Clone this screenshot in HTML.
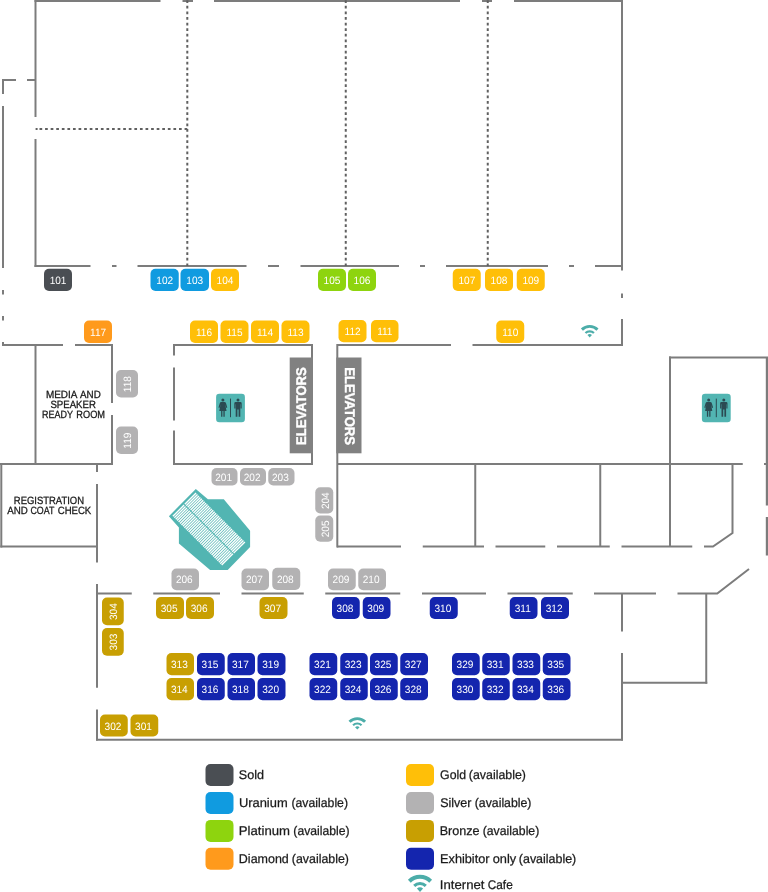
<!DOCTYPE html>
<html lang="en">
<head>
<meta charset="utf-8">
<title>Exhibit Floor Plan</title>
<style>
html,body{margin:0;padding:0;background:#fff;}
body{width:768px;height:892px;overflow:hidden;font-family:"Liberation Sans",sans-serif;}
svg{display:block;will-change:transform;}
</style>
</head>
<body>
<svg width="768" height="892" viewBox="0 0 768 892">
<rect width="768" height="892" fill="#fff"/>
<g fill="none" stroke="#7c7c7c" stroke-width="2">
<path d="M34.5 1H160.5"/>
<path d="M182.5 1H193"/>
<path d="M214 1H460"/>
<path d="M482 1H492"/>
<path d="M514 1H623"/>
<path d="M35.5 0V117"/>
<path d="M35.5 139V267"/>
<path d="M622 0V270.5"/>
<path d="M622 293.5V298"/>
<path d="M622 319V346"/>
<path d="M34.5 266H90.5"/>
<path d="M112 266H116.5"/>
<path d="M137.5 266H246.5"/>
<path d="M268 266H279"/>
<path d="M300.5 266H399"/>
<path d="M420 266H425"/>
<path d="M446 266H548"/>
<path d="M569 266H574"/>
<path d="M595 266H623"/>
<path d="M2 80H16"/>
<path d="M27 80H35"/>
<path d="M3 79V94"/>
<path d="M3 106V268"/>
<path d="M3 290V294.5"/>
<path d="M3 316V320.5"/>
<path d="M3 342V346"/>
<path d="M2 345H63"/>
<path d="M75 345H113"/>
<path d="M35.5 345V464"/>
<path d="M112 345V403"/>
<path d="M112 415V465"/>
<path d="M0 464H113"/>
<path d="M1.3 464V547.5"/>
<path d="M0.3 546.5H98"/>
<path d="M97 464V472"/>
<path d="M97 484V562.5"/>
<path d="M97 584V687.75"/>
<path d="M97 709.5V740.5"/>
<path d="M96 739.8H623"/>
<path d="M97 593.5H131.75"/>
<path d="M153.25 593.5H220"/>
<path d="M241.5 593.5H303.75"/>
<path d="M325.25 593.5H400.25"/>
<path d="M422 593.5H486"/>
<path d="M507.5 593.5H572.75"/>
<path d="M594 593.5H656"/>
<path d="M677.5 593.5H717.25L749 569"/>
<path d="M622 593.5V631.5"/>
<path d="M622 653V740.5"/>
<path d="M706.25 593.5V683.7"/>
<path d="M622 682.7H707.25"/>
<path d="M173 345H313"/>
<path d="M174 345V355.5"/>
<path d="M174 367.5V420.5"/>
<path d="M174 430.5V465"/>
<path d="M173 464H313"/>
<path d="M312 345V465"/>
<path d="M337.3 344V547.5"/>
<path d="M337 345H451"/>
<path d="M472.5 345H623"/>
<path d="M337 464H742.75"/>
<path d="M764 464H768"/>
<path d="M475.25 464V546.5"/>
<path d="M600.25 464V546.5"/>
<path d="M670 356.5V546.5"/>
<path d="M337 546.5H401"/>
<path d="M422.75 546.5H484"/>
<path d="M495.5 546.5H545.25"/>
<path d="M557 546.5H609.75"/>
<path d="M621.5 546.5H692.25"/>
<path d="M732.5 464V533L713 546.5H704"/>
<path d="M669 357.5H768"/>
<path d="M766.9 357.5V505.5M766.9 517V555.5" stroke-width="2.2"/>
</g>
<g fill="none" stroke="#606060" stroke-width="2">
<path stroke-dasharray="2.75 2.85" d="M187.3 0.26V266M345.75 0.26V266M487.75 0.26V266"/>
<path d="M35.6 129H37.6"/><path stroke-dasharray="2.7 2.88" d="M39.5 129H187.3"/>
</g>
<rect x="289.7" y="357.5" width="23.3" height="95.8" fill="#818181"/>
<rect x="336.3" y="357.5" width="25.2" height="95.8" fill="#818181"/>
<g text-rendering="geometricPrecision" font-family="'Liberation Sans', sans-serif" font-weight="700" fill="#fff" stroke="#fff" stroke-width="0.4">
<text transform="translate(306.30 444.88) rotate(-90) scale(0.9312 1)" font-size="14.0">ELEVATORS</text>
<text transform="translate(344.80 367.32) rotate(90) scale(0.9324 1)" font-size="14.0">ELEVATORS</text>
</g>
<rect x="44" y="268.75" width="28" height="22.25" rx="5" fill="#4a4e53"/>
<rect x="150.5" y="268.75" width="28.25" height="22.25" rx="5" fill="#109be0"/>
<rect x="180.5" y="268.75" width="28.5" height="22.25" rx="5" fill="#109be0"/>
<rect x="211" y="268.75" width="28" height="22.25" rx="5" fill="#ffbf08"/>
<rect x="452.75" y="268.75" width="28.0" height="22.25" rx="5" fill="#ffbf08"/>
<rect x="485" y="268.75" width="28" height="22.25" rx="5" fill="#ffbf08"/>
<rect x="516.75" y="268.75" width="28.0" height="22.25" rx="5" fill="#ffbf08"/>
<rect x="318" y="268.75" width="28" height="22.25" rx="5" fill="#8ed40e"/>
<rect x="348" y="268.75" width="28" height="22.25" rx="5" fill="#8ed40e"/>
<rect x="84" y="320.5" width="28" height="22.5" rx="5" fill="#ff9a1c"/>
<rect x="190" y="320.5" width="28" height="22.5" rx="5" fill="#ffbf08"/>
<rect x="220.5" y="320.5" width="28.0" height="22.5" rx="5" fill="#ffbf08"/>
<rect x="251" y="320.5" width="28" height="22.5" rx="5" fill="#ffbf08"/>
<rect x="281.5" y="320.5" width="28.0" height="22.5" rx="5" fill="#ffbf08"/>
<rect x="496.25" y="320.5" width="28.0" height="22.5" rx="5" fill="#ffbf08"/>
<rect x="338.5" y="320" width="28.0" height="22.3" rx="5" fill="#ffbf08"/>
<rect x="371" y="320" width="27.5" height="22.3" rx="5" fill="#ffbf08"/>
<rect x="116" y="370" width="22" height="27.5" rx="5" fill="#b3b2b3"/>
<rect x="116" y="426.5" width="22" height="27.5" rx="5" fill="#b3b2b3"/>
<rect x="211.5" y="468" width="26.0" height="17.5" rx="5" fill="#b3b2b3"/>
<rect x="240" y="468" width="26" height="17.5" rx="5" fill="#b3b2b3"/>
<rect x="268.25" y="468" width="26.25" height="17.5" rx="5" fill="#b3b2b3"/>
<rect x="315.25" y="487.25" width="18.0" height="26.25" rx="5" fill="#b3b2b3"/>
<rect x="315.25" y="515.5" width="18.0" height="26.25" rx="5" fill="#b3b2b3"/>
<rect x="171.5" y="568.5" width="27.5" height="21.75" rx="5" fill="#b3b2b3"/>
<rect x="241.5" y="568.5" width="27.5" height="21.75" rx="5" fill="#b3b2b3"/>
<rect x="328" y="568.5" width="27.75" height="21.75" rx="5" fill="#b3b2b3"/>
<rect x="358.25" y="568.5" width="27.75" height="21.75" rx="5" fill="#b3b2b3"/>
<rect x="272.25" y="567.75" width="28.0" height="22.25" rx="5" fill="#b3b2b3"/>
<rect x="102" y="597.5" width="21.75" height="27.75" rx="5" fill="#c89f02"/>
<rect x="102" y="628" width="21.75" height="27.75" rx="5" fill="#c89f02"/>
<rect x="156" y="597" width="28" height="22" rx="5" fill="#c89f02"/>
<rect x="186" y="597" width="28" height="22" rx="5" fill="#c89f02"/>
<rect x="259.5" y="597" width="28.0" height="22" rx="5" fill="#c89f02"/>
<rect x="332" y="597" width="27.75" height="22" rx="5" fill="#1425ae"/>
<rect x="362.75" y="597" width="27.75" height="22" rx="5" fill="#1425ae"/>
<rect x="429.75" y="597" width="28.0" height="22" rx="5" fill="#1425ae"/>
<rect x="509.75" y="597" width="27.75" height="22" rx="5" fill="#1425ae"/>
<rect x="541" y="597" width="28" height="22" rx="5" fill="#1425ae"/>
<rect x="166.5" y="653" width="27.5" height="22.25" rx="5" fill="#c89f02"/>
<rect x="166.5" y="678" width="27.5" height="22.25" rx="5" fill="#c89f02"/>
<rect x="197" y="653" width="27.75" height="22.25" rx="5" fill="#1425ae"/>
<rect x="197" y="678" width="27.75" height="22.25" rx="5" fill="#1425ae"/>
<rect x="227.5" y="653" width="27.5" height="22.25" rx="5" fill="#1425ae"/>
<rect x="227.5" y="678" width="27.5" height="22.25" rx="5" fill="#1425ae"/>
<rect x="257.5" y="653" width="28.0" height="22.25" rx="5" fill="#1425ae"/>
<rect x="257.5" y="678" width="28.0" height="22.25" rx="5" fill="#1425ae"/>
<rect x="309.5" y="653" width="27.75" height="22.25" rx="5" fill="#1425ae"/>
<rect x="309.5" y="678" width="27.75" height="22.25" rx="5" fill="#1425ae"/>
<rect x="340.25" y="653" width="27.5" height="22.25" rx="5" fill="#1425ae"/>
<rect x="340.25" y="678" width="27.5" height="22.25" rx="5" fill="#1425ae"/>
<rect x="370" y="653" width="27.75" height="22.25" rx="5" fill="#1425ae"/>
<rect x="370" y="678" width="27.75" height="22.25" rx="5" fill="#1425ae"/>
<rect x="400.25" y="653" width="27.75" height="22.25" rx="5" fill="#1425ae"/>
<rect x="400.25" y="678" width="27.75" height="22.25" rx="5" fill="#1425ae"/>
<rect x="452" y="653" width="27.75" height="22.25" rx="5" fill="#1425ae"/>
<rect x="452" y="678" width="27.75" height="22.25" rx="5" fill="#1425ae"/>
<rect x="482.25" y="653" width="27.5" height="22.25" rx="5" fill="#1425ae"/>
<rect x="482.25" y="678" width="27.5" height="22.25" rx="5" fill="#1425ae"/>
<rect x="512.5" y="653" width="27.75" height="22.25" rx="5" fill="#1425ae"/>
<rect x="512.5" y="678" width="27.75" height="22.25" rx="5" fill="#1425ae"/>
<rect x="542.75" y="653" width="27.75" height="22.25" rx="5" fill="#1425ae"/>
<rect x="542.75" y="678" width="27.75" height="22.25" rx="5" fill="#1425ae"/>
<rect x="100" y="714.5" width="27.75" height="22.0" rx="5" fill="#c89f02"/>
<rect x="130.5" y="714.5" width="27.75" height="22.0" rx="5" fill="#c89f02"/>
<g text-rendering="geometricPrecision" font-family="'Liberation Sans', sans-serif" fill="#fff">
<text transform="translate(49.64 283.88) scale(0.9530 1)" font-size="10.6">101</text>
<text transform="translate(156.28 283.88) scale(0.9530 1)" font-size="10.6">102</text>
<text transform="translate(186.36 283.88) scale(0.9530 1)" font-size="10.6">103</text>
<text transform="translate(216.54 283.88) scale(0.9530 1)" font-size="10.6">104</text>
<text transform="translate(458.40 283.88) scale(0.9530 1)" font-size="10.6">107</text>
<text transform="translate(490.61 283.88) scale(0.9530 1)" font-size="10.6">108</text>
<text transform="translate(522.38 283.88) scale(0.9530 1)" font-size="10.6">109</text>
<text transform="translate(323.60 283.88) scale(0.9530 1)" font-size="10.6">105</text>
<text transform="translate(353.61 283.88) scale(0.9530 1)" font-size="10.6">106</text>
<text transform="translate(90.03 335.75) scale(0.9530 1)" font-size="10.6">117</text>
<text transform="translate(195.99 335.75) scale(0.9530 1)" font-size="10.6">116</text>
<text transform="translate(226.48 335.75) scale(0.9530 1)" font-size="10.6">115</text>
<text transform="translate(256.92 335.75) scale(0.9530 1)" font-size="10.6">114</text>
<text transform="translate(287.49 335.75) scale(0.9530 1)" font-size="10.6">113</text>
<text transform="translate(502.22 335.75) scale(0.9530 1)" font-size="10.6">110</text>
<text transform="translate(344.53 335.15) scale(0.9530 1)" font-size="10.6">112</text>
<text transform="translate(377.13 335.15) scale(0.9530 1)" font-size="10.6">111</text>
<text transform="translate(131.40 392.16) rotate(-90) scale(0.9530 1)" font-size="10.6">118</text>
<text transform="translate(131.40 448.65) rotate(-90) scale(0.9530 1)" font-size="10.6">119</text>
<text transform="translate(215.16 480.75) scale(0.9530 1)" font-size="10.6">201</text>
<text transform="translate(243.68 480.75) scale(0.9530 1)" font-size="10.6">202</text>
<text transform="translate(272.01 480.75) scale(0.9530 1)" font-size="10.6">203</text>
<text transform="translate(328.65 509.11) rotate(-90) scale(0.9530 1)" font-size="10.6">204</text>
<text transform="translate(328.65 537.30) rotate(-90) scale(0.9530 1)" font-size="10.6">205</text>
<text transform="translate(175.89 583.38) scale(0.9530 1)" font-size="10.6">206</text>
<text transform="translate(245.93 583.38) scale(0.9530 1)" font-size="10.6">207</text>
<text transform="translate(332.53 583.38) scale(0.9530 1)" font-size="10.6">209</text>
<text transform="translate(362.74 583.38) scale(0.9530 1)" font-size="10.6">210</text>
<text transform="translate(276.89 582.88) scale(0.9530 1)" font-size="10.6">208</text>
<text transform="translate(117.28 620.05) rotate(-90) scale(0.9530 1)" font-size="10.6">304</text>
<text transform="translate(117.28 650.47) rotate(-90) scale(0.9530 1)" font-size="10.6">303</text>
<text transform="translate(160.69 612.00) scale(0.9530 1)" font-size="10.6">305</text>
<text transform="translate(190.70 612.00) scale(0.9530 1)" font-size="10.6">306</text>
<text transform="translate(264.24 612.00) scale(0.9530 1)" font-size="10.6">307</text>
<text transform="translate(336.58 612.00) scale(0.9530 1)" font-size="10.6">308</text>
<text transform="translate(367.34 612.00) scale(0.9530 1)" font-size="10.6">309</text>
<text transform="translate(434.43 612.00) scale(0.9530 1)" font-size="10.6">310</text>
<text transform="translate(514.73 612.00) scale(0.9530 1)" font-size="10.6">311</text>
<text transform="translate(545.74 612.00) scale(0.9530 1)" font-size="10.6">312</text>
<text transform="translate(170.95 668.12) scale(0.9530 1)" font-size="10.6">313</text>
<text transform="translate(170.88 693.12) scale(0.9530 1)" font-size="10.6">314</text>
<text transform="translate(201.57 668.12) scale(0.9530 1)" font-size="10.6">315</text>
<text transform="translate(201.58 693.12) scale(0.9530 1)" font-size="10.6">316</text>
<text transform="translate(231.99 668.12) scale(0.9530 1)" font-size="10.6">317</text>
<text transform="translate(231.95 693.12) scale(0.9530 1)" font-size="10.6">318</text>
<text transform="translate(262.22 668.12) scale(0.9530 1)" font-size="10.6">319</text>
<text transform="translate(262.18 693.12) scale(0.9530 1)" font-size="10.6">320</text>
<text transform="translate(314.10 668.12) scale(0.9530 1)" font-size="10.6">321</text>
<text transform="translate(314.12 693.12) scale(0.9530 1)" font-size="10.6">322</text>
<text transform="translate(344.70 668.12) scale(0.9530 1)" font-size="10.6">323</text>
<text transform="translate(344.63 693.12) scale(0.9530 1)" font-size="10.6">324</text>
<text transform="translate(374.57 668.12) scale(0.9530 1)" font-size="10.6">325</text>
<text transform="translate(374.58 693.12) scale(0.9530 1)" font-size="10.6">326</text>
<text transform="translate(404.87 668.12) scale(0.9530 1)" font-size="10.6">327</text>
<text transform="translate(404.83 693.12) scale(0.9530 1)" font-size="10.6">328</text>
<text transform="translate(456.59 668.12) scale(0.9530 1)" font-size="10.6">329</text>
<text transform="translate(456.55 693.12) scale(0.9530 1)" font-size="10.6">330</text>
<text transform="translate(486.73 668.12) scale(0.9530 1)" font-size="10.6">331</text>
<text transform="translate(486.74 693.12) scale(0.9530 1)" font-size="10.6">332</text>
<text transform="translate(517.08 668.12) scale(0.9530 1)" font-size="10.6">333</text>
<text transform="translate(517.00 693.12) scale(0.9530 1)" font-size="10.6">334</text>
<text transform="translate(547.32 668.12) scale(0.9530 1)" font-size="10.6">335</text>
<text transform="translate(547.33 693.12) scale(0.9530 1)" font-size="10.6">336</text>
<text transform="translate(104.62 729.50) scale(0.9530 1)" font-size="10.6">302</text>
<text transform="translate(135.10 729.50) scale(0.9530 1)" font-size="10.6">301</text>
</g>
<g text-rendering="geometricPrecision" font-family="'Liberation Sans', sans-serif" fill="#1a1a1a" stroke="#1a1a1a" stroke-width="0.3">
<text font-size="10.5"><tspan x="45.89" y="397.60" textLength="30.93" lengthAdjust="spacingAndGlyphs">MEDIA</tspan> <tspan x="80.03" y="397.60" textLength="20.73" lengthAdjust="spacingAndGlyphs">AND</tspan> <tspan x="50.42" y="408.00" textLength="45.43" lengthAdjust="spacingAndGlyphs">SPEAKER</tspan> <tspan x="41.96" y="418.40" textLength="30.84" lengthAdjust="spacingAndGlyphs">READY</tspan> <tspan x="76.34" y="418.40" textLength="28.73" lengthAdjust="spacingAndGlyphs">ROOM</tspan></text>
<text font-size="10.5"><tspan x="13.82" y="503.70" textLength="70.25" lengthAdjust="spacingAndGlyphs">REGISTRATION</tspan> <tspan x="7.18" y="514.40" textLength="20.58" lengthAdjust="spacingAndGlyphs">AND</tspan> <tspan x="30.46" y="514.40" textLength="23.75" lengthAdjust="spacingAndGlyphs">COAT</tspan> <tspan x="57.72" y="514.40" textLength="33.50" lengthAdjust="spacingAndGlyphs">CHECK</tspan></text>
</g>
<polygon fill="#52b5b2" points="195.8,488.9 207.9,499.3 223.8,499.3 250.1,530.8 250.1,547.1 227.7,570.1 210.1,570.1 178.9,543.5 178.9,527.5 168.9,516.2"/>
<g transform="translate(195.8 491.7) rotate(45)" fill="#fff">
<rect x="0.5" y="0.8" width="1.35" height="15.9"/><rect x="0.5" y="17.7" width="1.35" height="15.9"/>
<rect x="2.53" y="0.8" width="1.35" height="15.9"/><rect x="2.53" y="17.7" width="1.35" height="15.9"/>
<rect x="4.56" y="0.8" width="1.35" height="15.9"/><rect x="4.56" y="17.7" width="1.35" height="15.9"/>
<rect x="6.59" y="0.8" width="1.35" height="15.9"/><rect x="6.59" y="17.7" width="1.35" height="15.9"/>
<rect x="8.62" y="0.8" width="1.35" height="15.9"/><rect x="8.62" y="17.7" width="1.35" height="15.9"/>
<rect x="10.65" y="0.8" width="1.35" height="15.9"/><rect x="10.65" y="17.7" width="1.35" height="15.9"/>
<rect x="12.68" y="0.8" width="1.35" height="15.9"/><rect x="12.68" y="17.7" width="1.35" height="15.9"/>
<rect x="14.71" y="0.8" width="1.35" height="15.9"/><rect x="14.71" y="17.7" width="1.35" height="15.9"/>
<rect x="16.74" y="0.8" width="1.35" height="15.9"/><rect x="16.74" y="17.7" width="1.35" height="15.9"/>
<rect x="18.77" y="0.8" width="1.35" height="15.9"/><rect x="18.77" y="17.7" width="1.35" height="15.9"/>
<rect x="20.8" y="0.8" width="1.35" height="15.9"/><rect x="20.8" y="17.7" width="1.35" height="15.9"/>
<rect x="22.83" y="0.8" width="1.35" height="15.9"/><rect x="22.83" y="17.7" width="1.35" height="15.9"/>
<rect x="24.86" y="0.8" width="1.35" height="15.9"/><rect x="24.86" y="17.7" width="1.35" height="15.9"/>
<rect x="26.89" y="0.8" width="1.35" height="15.9"/><rect x="26.89" y="17.7" width="1.35" height="15.9"/>
<rect x="28.92" y="0.8" width="1.35" height="15.9"/><rect x="28.92" y="17.7" width="1.35" height="15.9"/>
<rect x="30.95" y="0.8" width="1.35" height="15.9"/><rect x="30.95" y="17.7" width="1.35" height="15.9"/>
<rect x="32.98" y="0.8" width="1.35" height="15.9"/><rect x="32.98" y="17.7" width="1.35" height="15.9"/>
<rect x="35.01" y="0.8" width="1.35" height="15.9"/><rect x="35.01" y="17.7" width="1.35" height="15.9"/>
<rect x="37.04" y="0.8" width="1.35" height="15.9"/><rect x="37.04" y="17.7" width="1.35" height="15.9"/>
<rect x="39.07" y="0.8" width="1.35" height="15.9"/><rect x="39.07" y="17.7" width="1.35" height="15.9"/>
<rect x="41.1" y="0.8" width="1.35" height="15.9"/><rect x="41.1" y="17.7" width="1.35" height="15.9"/>
<rect x="43.13" y="0.8" width="1.35" height="15.9"/><rect x="43.13" y="17.7" width="1.35" height="15.9"/>
<rect x="45.16" y="0.8" width="1.35" height="15.9"/><rect x="45.16" y="17.7" width="1.35" height="15.9"/>
<rect x="47.19" y="0.8" width="1.35" height="15.9"/><rect x="47.19" y="17.7" width="1.35" height="15.9"/>
<rect x="49.22" y="0.8" width="1.35" height="15.9"/><rect x="49.22" y="17.7" width="1.35" height="15.9"/>
<rect x="51.25" y="0.8" width="1.35" height="15.9"/><rect x="51.25" y="17.7" width="1.35" height="15.9"/>
<rect x="53.28" y="0.8" width="1.35" height="15.9"/><rect x="53.28" y="17.7" width="1.35" height="15.9"/>
<rect x="55.31" y="0.8" width="1.35" height="15.9"/><rect x="55.31" y="17.7" width="1.35" height="15.9"/>
<rect x="57.34" y="0.8" width="1.35" height="15.9"/><rect x="57.34" y="17.7" width="1.35" height="15.9"/>
<rect x="59.37" y="0.8" width="1.35" height="15.9"/><rect x="59.37" y="17.7" width="1.35" height="15.9"/>
<rect x="61.4" y="0.8" width="1.35" height="15.9"/><rect x="61.4" y="17.7" width="1.35" height="15.9"/>
<rect x="63.43" y="0.8" width="1.35" height="15.9"/><rect x="63.43" y="17.7" width="1.35" height="15.9"/>
<rect x="65.46" y="0.8" width="1.35" height="15.9"/><rect x="65.46" y="17.7" width="1.35" height="15.9"/>
<rect x="67.49" y="0.8" width="1.35" height="15.9"/><rect x="67.49" y="17.7" width="1.35" height="15.9"/>
<rect x="69.52" y="0.8" width="1.35" height="15.9"/><rect x="69.52" y="17.7" width="1.35" height="15.9"/>
</g>
<g transform="translate(216.1 393.8)">
<rect width="28.8" height="28.4" rx="3.2" fill="#52b5b2"/>
<g fill="#2b4a52">
<rect x="13.9" y="4.8" width="1" height="18.6"/>
<circle cx="6.8" cy="6.3" r="1.5"/>
<path d="M5.2 8.2H8.4Q9.6 8.2 10 9.6L11.2 13.8L10.2 14.1L9.2 10.6L10.4 17.2H8.6V23H7.3V17.2H6.3V23H5V17.2H3.2L4.4 10.6L3.4 14.1L2.4 13.8L3.6 9.6Q4 8.2 5.2 8.2Z"/>
<circle cx="21.9" cy="6.3" r="1.5"/>
<path d="M19.6 8.2H24.2Q25.6 8.2 25.6 9.6V14.8H24.5V10.4H24.2V23H22.5V15.8H21.3V23H19.6V10.4H19.3V14.8H18.2V9.6Q18.2 8.2 19.6 8.2Z"/>
</g></g>
<g transform="translate(701.9 393.8)">
<rect width="28.8" height="28.4" rx="3.2" fill="#52b5b2"/>
<g fill="#2b4a52">
<rect x="13.9" y="4.8" width="1" height="18.6"/>
<circle cx="6.8" cy="6.3" r="1.5"/>
<path d="M5.2 8.2H8.4Q9.6 8.2 10 9.6L11.2 13.8L10.2 14.1L9.2 10.6L10.4 17.2H8.6V23H7.3V17.2H6.3V23H5V17.2H3.2L4.4 10.6L3.4 14.1L2.4 13.8L3.6 9.6Q4 8.2 5.2 8.2Z"/>
<circle cx="21.9" cy="6.3" r="1.5"/>
<path d="M19.6 8.2H24.2Q25.6 8.2 25.6 9.6V14.8H24.5V10.4H24.2V23H22.5V15.8H21.3V23H19.6V10.4H19.3V14.8H18.2V9.6Q18.2 8.2 19.6 8.2Z"/>
</g></g>
<path d="M581.92 329.62A11.00 11.00 0 0 1 597.48 329.62" fill="none" stroke="#4cada9" stroke-width="2.90"/>
<path d="M585.46 333.01A6.10 6.10 0 0 1 593.94 333.01" fill="none" stroke="#4cada9" stroke-width="2.20"/>
<path d="M589.7 337.4L587.45 334.99A3.30 3.30 0 0 1 591.95 334.99Z" fill="#4cada9"/>
<path d="M349.52 721.82A11.00 11.00 0 0 1 365.08 721.82" fill="none" stroke="#4cada9" stroke-width="2.90"/>
<path d="M353.06 725.21A6.10 6.10 0 0 1 361.54 725.21" fill="none" stroke="#4cada9" stroke-width="2.20"/>
<path d="M357.3 729.6L355.05 727.19A3.30 3.30 0 0 1 359.55 727.19Z" fill="#4cada9"/>
<path d="M409.34 881.24A15.07 15.07 0 0 1 430.66 881.24" fill="none" stroke="#4cada9" stroke-width="3.97"/>
<path d="M414.19 885.89A8.36 8.36 0 0 1 425.81 885.89" fill="none" stroke="#4cada9" stroke-width="3.01"/>
<path d="M420 891.9L416.92 888.59A4.52 4.52 0 0 1 423.08 888.59Z" fill="#4cada9"/>
<rect x="205.5" y="764" width="28" height="22" rx="5" fill="#4a4e53"/>
<rect x="205.5" y="792" width="28" height="22" rx="5" fill="#109be0"/>
<rect x="205.5" y="819.9" width="28" height="22" rx="5" fill="#8ed40e"/>
<rect x="205.5" y="847.8" width="28" height="22" rx="5" fill="#ff9a1c"/>
<rect x="406" y="764" width="28" height="22" rx="5" fill="#ffbf08"/>
<rect x="406" y="792" width="28" height="22" rx="5" fill="#b3b2b3"/>
<rect x="406" y="819.9" width="28" height="22" rx="5" fill="#c89f02"/>
<rect x="406" y="847.8" width="28" height="22" rx="5" fill="#1425ae"/>
<g text-rendering="geometricPrecision" font-family="'Liberation Sans', sans-serif" fill="#1a1a1a" stroke="#1a1a1a" stroke-width="0.25">
<text font-size="12.6"><tspan x="238.83" y="779.35" textLength="25.28" lengthAdjust="spacingAndGlyphs">Sold</tspan></text>
<text font-size="12.6"><tspan x="238.90" y="807.15" textLength="48.76" lengthAdjust="spacingAndGlyphs">Uranium</tspan> <tspan x="291.48" y="807.15" textLength="56.54" lengthAdjust="spacingAndGlyphs">(available)</tspan></text>
<text font-size="12.6"><tspan x="238.82" y="834.85" textLength="51.15" lengthAdjust="spacingAndGlyphs">Platinum</tspan> <tspan x="293.34" y="834.85" textLength="56.24" lengthAdjust="spacingAndGlyphs">(available)</tspan></text>
<text font-size="12.6"><tspan x="238.87" y="863.15" textLength="49.94" lengthAdjust="spacingAndGlyphs">Diamond</tspan> <tspan x="291.83" y="863.15" textLength="57.16" lengthAdjust="spacingAndGlyphs">(available)</tspan></text>
<text font-size="12.6"><tspan x="440.08" y="779.45" textLength="26.01" lengthAdjust="spacingAndGlyphs">Gold</tspan> <tspan x="468.83" y="779.45" textLength="57.06" lengthAdjust="spacingAndGlyphs">(available)</tspan></text>
<text font-size="12.6"><tspan x="440.14" y="807.35" textLength="31.26" lengthAdjust="spacingAndGlyphs">Silver</tspan> <tspan x="474.73" y="807.35" textLength="56.75" lengthAdjust="spacingAndGlyphs">(available)</tspan></text>
<text font-size="12.6"><tspan x="439.66" y="835.05" textLength="39.89" lengthAdjust="spacingAndGlyphs">Bronze</tspan> <tspan x="482.73" y="835.05" textLength="56.54" lengthAdjust="spacingAndGlyphs">(available)</tspan></text>
<text font-size="12.6"><tspan x="440.05" y="862.75" textLength="49.45" lengthAdjust="spacingAndGlyphs">Exhibitor</tspan> <tspan x="492.66" y="862.75" textLength="23.47" lengthAdjust="spacingAndGlyphs">only</tspan> <tspan x="518.82" y="862.75" textLength="57.47" lengthAdjust="spacingAndGlyphs">(available)</tspan></text>
<text font-size="12.6"><tspan x="439.88" y="888.75" textLength="44.63" lengthAdjust="spacingAndGlyphs">Internet</tspan> <tspan x="487.71" y="888.75" textLength="25.02" lengthAdjust="spacingAndGlyphs">Cafe</tspan></text>
</g>
</svg>
</body>
</html>
